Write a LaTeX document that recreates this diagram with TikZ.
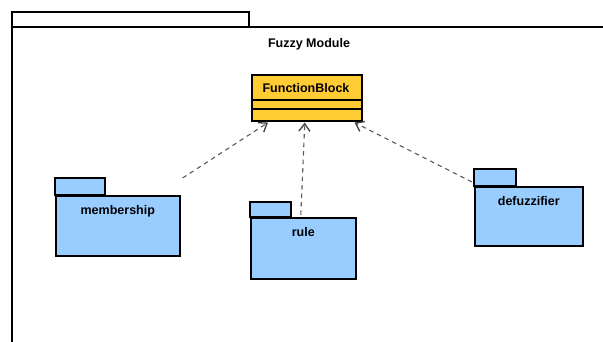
\documentclass[tikz,border=0pt]{standalone}
\usepackage{fontspec}
\setmainfont{Liberation Sans}
\usepackage{xcolor}
\definecolor{classyellow}{rgb}{1.0, 0.8, 0.2}
\definecolor{pkgblue}{rgb}{0.6, 0.8, 1.0}
\definecolor{dep-gray}{gray}{0.35}
\usetikzlibrary{arrows.meta}
\usetikzlibrary{positioning}

\tikzset{
  umlfont/.style={font=\fontsize{12.5}{14}\selectfont\bfseries},
  pkgbody/.style={draw=black,line width=1.6pt,fill=pkgblue,anchor=north west,
    inner sep=0pt,minimum width=#1},
  pkgtab/.style={draw=black,line width=1.6pt,fill=pkgblue},
  pkgname/.style={umlfont,anchor=north,inner sep=0pt},
  depend/.style={draw=dep-gray,line width=1.1pt,dash pattern=on 4.5pt off 4pt,
    -{Straight Barb[length=7.5pt,width=11pt,line width=1.3pt,color=dep-gray!70!black]}}
}

\begin{document}
\begin{tikzpicture}[x=1pt,y=-1pt]
\useasboundingbox (0,0) rectangle (603,342);
% frame of the module
\draw[line width=1.6pt] (12,344) -- (12,12) -- (249,12) -- (249,27);
\draw[line width=1.6pt] (12,27) -- (605,27);
\node[umlfont] (title) at (309,44) {Fuzzy Module};

% the class
\node[draw=black,line width=1.6pt,fill=classyellow,anchor=north west,
  minimum width=110,minimum height=46,inner sep=0pt] (fb) at (251,74) {};
\node[umlfont] (fbname) at (306,88) {FunctionBlock};
\draw[line width=1.2pt] ([yshift=-26]fb.north west) -- ([yshift=-26]fb.north east);
\draw[line width=1.2pt] ([yshift=-35]fb.north west) -- ([yshift=-35]fb.north east);

% packages
\draw[pkgtab] (55,195) rectangle (105,178);
\node[pkgbody=124,minimum height=60] (mem) at (55,195) {};
\node[pkgname] (memname) at ([yshift=-10]mem.north) {membership};

\draw[pkgtab] (250,217) rectangle (291,202);
\node[pkgbody=105,minimum height=61] (rule) at (250,217) {};
\node[pkgname] (rulename) at ([yshift=-10]rule.north) {rule};

\draw[pkgtab] (474,186) rectangle (516,169);
\node[pkgbody=108,minimum height=59] (defuz) at (474,186) {};
\node[pkgname] (defuzname) at ([yshift=-10]defuz.north) {defuzzifier};

% dependencies
\coordinate (memtip) at ([xshift=17,yshift=-1]fb.south west);
\coordinate (ruletip) at ([xshift=-2,yshift=-1]fb.south);
\coordinate (defuztip) at ([xshift=-8,yshift=-1]fb.south east);
\draw[depend] ([xshift=2,yshift=17]mem.north east) -- (memtip);
\draw[depend] ([xshift=-2.5,yshift=2]rule.north) -- (ruletip);
\draw[depend] ([xshift=-2,yshift=4]defuz.north west) -- (defuztip);
\end{tikzpicture}
\end{document}
